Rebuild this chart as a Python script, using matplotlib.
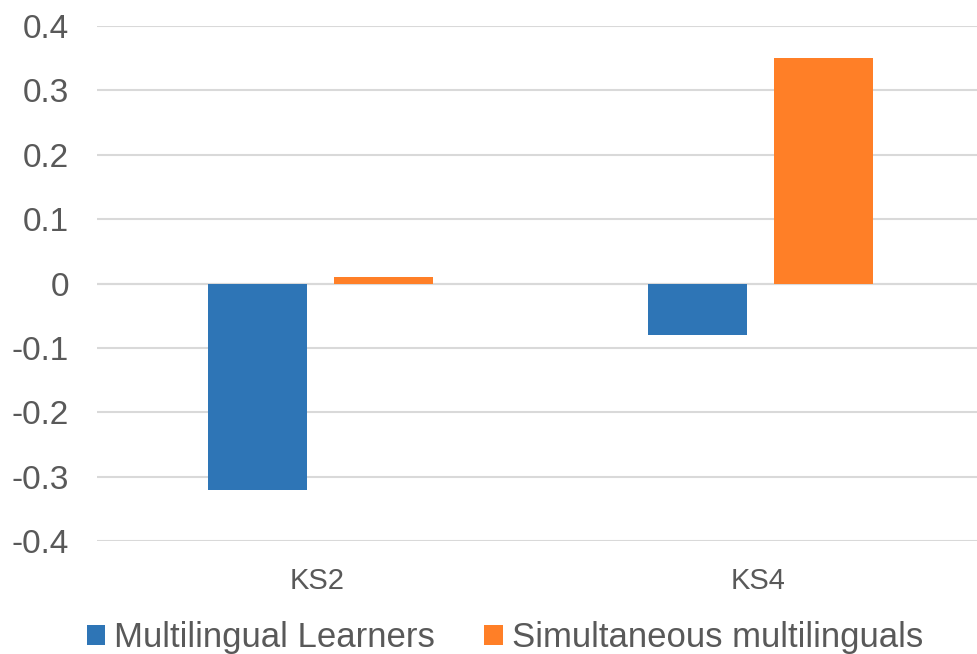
import matplotlib
matplotlib.use("Agg")
import matplotlib.pyplot as plt
import numpy as np

# Data
categories = ["KS2", "KS4"]
series_names = ["Multilingual Learners", "Simultaneous multilinguals"]
multilingual_learners = [-0.32, -0.08]
simultaneous_multilinguals = [0.01, 0.35]
y_ticks = [-0.4, -0.3, -0.2, -0.1, 0, 0.1, 0.2, 0.3, 0.4]
y_tick_labels = ["-0.4", "-0.3", "-0.2", "-0.1", "0", "0.1", "0.2", "0.3", "0.4"]

colors = ["#2E75B6", "#FF7F27"]
text_color = "#595959"
grid_color = "#D9D9D9"

plt.rcParams["font.family"] = ["Liberation Sans", "DejaVu Sans"]

fig = plt.figure(figsize=(9.78, 6.54), dpi=100)
ax = fig.add_axes([97 / 978, 1 - 541 / 654, 1 - 97 / 978, (541 - 26) / 654])

x = np.arange(len(categories))
width = 0.225
offset = 0.143
shift = 0.007
ax.bar(x - offset + shift, multilingual_learners, width, color=colors[0], label=series_names[0], zorder=3)
ax.bar(x + offset + shift, simultaneous_multilinguals, width, color=colors[1], label=series_names[1], zorder=3)

ax.set_xlim(-0.5, 1.5)
ax.set_ylim(-0.4, 0.4)
ax.set_yticks(y_ticks)
ax.set_yticklabels(y_tick_labels)
ax.set_xticks(x)
ax.set_xticklabels(categories)

ax.yaxis.grid(True, color=grid_color, linewidth=1.5, zorder=0)
ax.set_axisbelow(True)
for s in ax.spines.values():
    s.set_visible(False)
ax.axhline(0, color=grid_color, linewidth=1.5, zorder=2)

ax.tick_params(axis="y", length=0, pad=20, labelsize=24, labelcolor=text_color)
ax.tick_params(axis="x", length=0, pad=19, labelsize=21, labelcolor=text_color)

fig.legend(loc="lower center", bbox_to_anchor=(0.516, 0.0), ncol=2, frameon=False,
           fontsize=25, handlelength=0.52, handleheight=0.52, handletextpad=0.26,
           columnspacing=1.44, borderpad=0, borderaxespad=0, labelcolor=text_color)

fig.savefig("out.png", dpi=100, facecolor="white")
